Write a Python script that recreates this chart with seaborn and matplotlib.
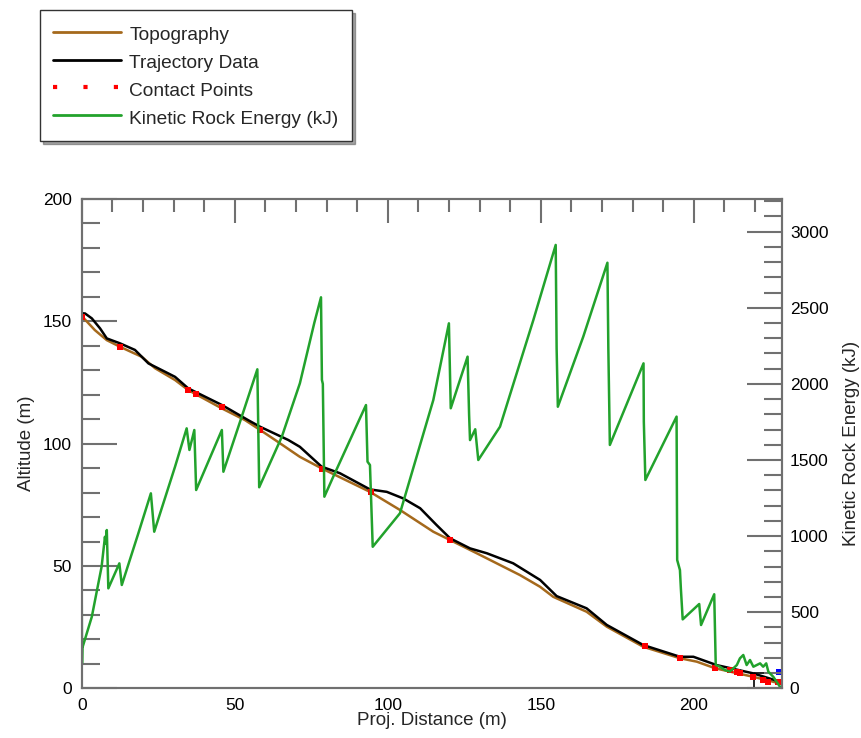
import numpy as np
import matplotlib
matplotlib.use("Agg")
import matplotlib.pyplot as plt
from matplotlib.lines import Line2D
from matplotlib.ticker import MultipleLocator
import seaborn as sns

# slope profile (m)
topo_x = [0.2, 4.3, 8.2, 12.5, 19.6, 24.0, 30.5, 34.8, 45.8, 53.4, 58.3, 63.2, 71.3, 78.4,
          94.2, 104.0, 114.9, 120.4, 129.1, 143.2, 149.8, 154.1, 165.0, 171.6, 183.5, 195.5,
          201.0, 207.0, 219.5, 228.2]
topo_y = [151.9, 146.4, 142.3, 139.6, 135.5, 130.8, 126.0, 121.9, 114.4, 109.6, 105.6, 101.5,
          94.6, 89.9, 80.3, 72.9, 64.0, 60.6, 55.2, 46.3, 41.5, 37.4, 31.3, 25.2, 17.0, 12.3,
          10.9, 8.2, 4.7, 2.0]

# rock trajectory (m)
traj_x = [0.0, 0.0, 1.1, 3.3, 6.0, 8.2, 12.5, 17.4, 21.8, 27.2, 30.5, 34.8, 45.8, 54.4, 58.3,
          67.5, 71.3, 78.4, 84.4, 94.2, 99.7, 105.1, 110.6, 116.0, 120.4, 126.9, 132.4, 141.0,
          149.8, 155.2, 165.0, 171.6, 183.5, 195.5, 199.9, 207.5, 219.5, 228.2]
traj_y = [162.7, 153.3, 153.2, 151.2, 147.1, 143.0, 141.0, 138.3, 132.8, 129.4, 127.3, 122.6,
          115.8, 109.6, 106.9, 101.5, 98.7, 90.6, 87.9, 81.3, 80.3, 77.6, 73.6, 66.7, 61.3,
          57.2, 55.2, 51.1, 44.3, 37.7, 32.7, 25.9, 17.7, 12.9, 12.9, 9.5, 6.1, 2.7]

# impacts
contact_x = [0.2, 12.5, 34.8, 37.3, 46.0, 58.3, 78.4, 94.5, 120.4, 184.1, 195.5, 207.0, 211.9,
             214.1, 215.1, 219.5, 222.7, 224.4, 227.6]
contact_y = [151.9, 139.6, 121.9, 120.1, 114.8, 105.6, 89.6, 80.3, 60.8, 17.3, 12.3, 8.2, 7.5,
             6.8, 6.4, 4.7, 3.4, 2.7, 2.7]

# kinetic energy (kJ)
energy_x = [0.0, 0.1, 0.2, 3.3, 6.5, 7.6, 7.8, 8.2, 8.7, 12.3, 13.1, 18.5, 22.6, 23.7, 30.5,
            34.3, 35.2, 36.8, 37.4, 45.8, 46.3, 52.3, 57.4, 58.0, 65.4, 71.3, 76.0, 78.2, 78.5,
            78.8, 79.3, 82.2, 92.9, 93.4, 94.2, 95.1, 104.0, 114.9, 120.0, 120.6, 126.1, 126.6,
            126.9, 128.6, 129.6, 136.7, 147.6, 154.9, 155.2, 155.6, 163.9, 171.8, 172.1, 172.6,
            183.6, 183.7, 184.2, 194.4, 194.6, 195.5, 195.8, 196.4, 201.8, 202.4, 206.7, 207.2,
            208.6, 210.2, 211.8, 214.1, 215.1, 216.2, 217.3, 218.4, 219.5, 220.6, 221.7, 222.7,
            223.7, 224.4, 226.0, 227.1, 228.2]
energy_kj = [630, 166, 265, 470, 799, 996, 950, 1040, 657, 821, 679, 1018, 1281, 1029, 1456,
             1708, 1566, 1697, 1303, 1697, 1423, 1785, 2096, 1321, 1653, 2004, 2400, 2569, 2026,
             2000, 1259, 1390, 1861, 1489, 1467, 930, 1150, 1894, 2398, 1840, 2179, 1796,
             1631, 1702, 1500, 1719, 2420, 2913, 2234, 1850, 2310, 2796, 2234, 1599,
             2135, 1752, 1369, 1785, 843, 777, 657, 453, 554, 416, 618, 153,
             142, 120, 110, 153, 197, 219, 153, 186, 142, 153, 164, 142,
             164, 109, 76, 43, 10]

# final stop zone
stop_x = [219.8, 219.8, 228.7]
stop_y = [0.0, 6.1, 6.1]
end_x = [228.0]
end_y = [6.5]

TOPO = "#a5691c"
GREEN = "#22a22c"
GRID = "#707070"

sns.set_style("white")
plt.rcParams["font.family"] = ["Liberation Sans", "DejaVu Sans"]

fig = plt.figure(figsize=(8.61, 7.38), dpi=100)
ax = fig.add_axes([0.0949, 0.0673, 0.8128, 0.6631])

sns.lineplot(x=topo_x, y=topo_y, ax=ax, color=TOPO, lw=1.8, sort=False, estimator=None)
sns.lineplot(x=traj_x, y=traj_y, ax=ax, color="black", lw=1.8, sort=False, estimator=None)
sns.lineplot(x=stop_x, y=stop_y, ax=ax, color="black", lw=1.2, sort=False, estimator=None)
sns.scatterplot(x=contact_x, y=contact_y, ax=ax, color="red", marker="s", s=18,
                linewidth=0, zorder=4)
sns.scatterplot(x=end_x, y=end_y, ax=ax, color="blue", marker="s", s=22, linewidth=0, zorder=4)

ax.set_xlim(0, 228.7)
ax.set_ylim(0, 200)
ax.xaxis.set_major_locator(MultipleLocator(50))
ax.xaxis.set_minor_locator(MultipleLocator(10))
ax.yaxis.set_major_locator(MultipleLocator(50))
ax.yaxis.set_minor_locator(MultipleLocator(10))
ax.tick_params(axis="x", which="both", direction="in", top=True, colors=GRID,
               labelcolor="black", labelsize=12.5, width=1.5, pad=7)
ax.tick_params(axis="x", which="major", length=17)
ax.tick_params(axis="x", which="minor", length=9)
ax.tick_params(axis="y", which="both", direction="in", right=False, colors=GRID,
               labelcolor="black", labelsize=12.5, width=1.5, pad=7)
ax.tick_params(axis="y", which="major", length=25)
ax.tick_params(axis="y", which="minor", length=13)
ax.set_xlabel("Proj. Distance (m)", fontsize=13.5, labelpad=-1)
ax.set_ylabel("Altitude (m)", fontsize=13.5, labelpad=6)
for s in ax.spines.values():
    s.set_color(GRID)
    s.set_linewidth(1.5)

ax2 = ax.twinx()
sns.lineplot(x=energy_x, y=energy_kj, ax=ax2, color=GREEN, lw=1.8, sort=False, estimator=None)
ax2.set_ylim(0, 3215)
ax2.yaxis.set_major_locator(MultipleLocator(500))
ax2.yaxis.set_minor_locator(MultipleLocator(100))
ax2.tick_params(axis="y", which="both", direction="in", colors=GRID, labelcolor="black",
                labelsize=12.5, width=1.5)
ax2.tick_params(axis="y", which="major", length=25, pad=6)
ax2.tick_params(axis="y", which="minor", length=13)
ax2.set_ylabel("Kinetic Rock Energy (kJ)", fontsize=13.5, labelpad=10)
for s in ax2.spines.values():
    s.set_color(GRID)
    s.set_linewidth(1.5)

handles = [
    Line2D([], [], color=TOPO, lw=2),
    Line2D([], [], color="black", lw=2),
    Line2D([], [], color="red", lw=3, linestyle=(0, (1, 6.3))),
    Line2D([], [], color=GREEN, lw=2),
]
labels = ["Topography", "Trajectory Data", "Contact Points", "Kinetic Rock Energy (kJ)"]
leg = fig.legend(handles, labels, loc="upper left", bbox_to_anchor=(40 / 861, 1 - 10 / 738),
                 borderaxespad=0, fontsize=13.8, frameon=True, fancybox=False, shadow=True,
                 handlelength=3.5, handleheight=1.2, labelspacing=0.4, borderpad=0.7,
                 handletextpad=0.45)
leg.get_frame().set_edgecolor("#333333")
leg.get_frame().set_linewidth(1.0)

fig.savefig("out.png", dpi=100)
